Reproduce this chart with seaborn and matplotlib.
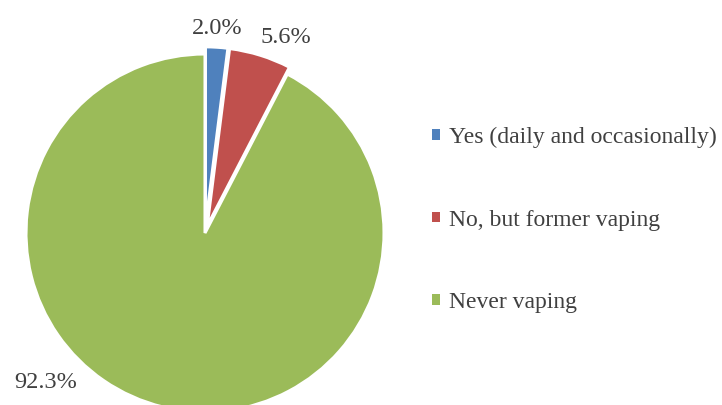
import matplotlib
matplotlib.use("Agg")
import matplotlib.pyplot as plt
from matplotlib.patches import Patch
import seaborn as sns

categories = ["Yes (daily and occasionally)", "No, but former vaping", "Never vaping"]
values = [2.0, 5.6, 92.3]
pct_labels = ["2.0%", "5.6%", "92.3%"]
colors = ["#4F81BD", "#C0504D", "#9BBB59"]

sns.set_theme(style="white")
plt.rcParams["font.family"] = ["Liberation Serif", "DejaVu Serif"]

W, H = 722, 405
fig = plt.figure(figsize=(W / 100, H / 100), dpi=100)
fig.patch.set_facecolor("white")
cx, cy, r = 205, 405 - 233, 179
ax = fig.add_axes([(cx - r) / W, (cy - r) / H, 2 * r / W, 2 * r / H])

wedges, _ = ax.pie(values, colors=colors, startangle=90, counterclock=False,
                   explode=[0.04, 0.04, 0.0],
                   wedgeprops=dict(edgecolor="white", linewidth=2.2))
for w in wedges:
    w.set_clip_on(False)
ax.set_xlim(-1, 1)
ax.set_ylim(-1, 1)
ax.set_aspect("equal")
ax.axis("off")

label_pos = [(0.067, 1.144), (0.45, 1.094), (-0.89, -0.833)]
for txt, (x, y) in zip(pct_labels, label_pos):
    ax.text(x, y, txt, ha="center", va="center", fontsize=17.5, color="#404040", clip_on=False)

handles = [Patch(facecolor=c, edgecolor="none") for c in colors]
leg = fig.legend(handles, categories, loc="center left", bbox_to_anchor=(432 / W, 1 - 220 / H),
                 frameon=False, fontsize=17, labelcolor="#404040",
                 handlelength=0.32, handleheight=0.32, handletextpad=0.4,
                 labelspacing=2.6, borderaxespad=0, borderpad=0)

fig.savefig("out.png", dpi=100, facecolor="white")
